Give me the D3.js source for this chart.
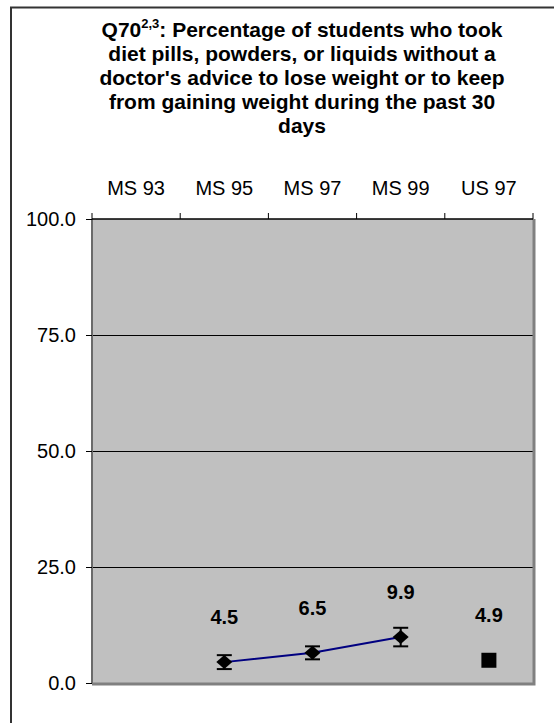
<!DOCTYPE html>
<html>
<head>
<meta charset="utf-8">
<script src="https://cdn.jsdelivr.net/npm/d3@7"></script>
<style>
  html, body { margin: 0; padding: 0; background: #fff; }
  svg { display: block; font-family: Arial, "Liberation Sans", sans-serif; }
</style>
</head>
<body>
<svg id="chart" width="554" height="723"></svg>
<script>
// Survey years shown along the top axis
const categories = ["MS 93", "MS 95", "MS 97", "MS 99", "US 97"];
// Mississippi trend (MS 93 not asked)
const trendCats = ["MS 95", "MS 97", "MS 99"];
const trendValues = [4.5, 6.5, 9.9];
const trendErr = [1.5, 1.4, 2.0];
// National comparison
const usCats = ["US 97"];
const usValues = [4.9];
// Y axis ticks
const yTicks = [0, 25, 50, 75, 100];

const svg = d3.select("#chart");
const plot = { left: 92, right: 533, top: 219, bottom: 683 };

// Outer chart frame
svg.append("path")
  .attr("d", "M11,723 L11,7.5 L554,7.5")
  .attr("fill", "none").attr("stroke", "#333").attr("stroke-width", 2);

// Title
const title = svg.append("g").attr("font-weight", "bold").attr("font-size", 21)
  .attr("text-anchor", "middle").attr("fill", "#000");
const t1 = title.append("text").attr("x", 302).attr("y", 37);
t1.append("tspan").text("Q70");
t1.append("tspan").attr("font-size", 13).attr("dy", -9).text("2,3");
t1.append("tspan").attr("dy", 9).text(": Percentage of students who took");
["diet pills, powders, or liquids without a",
 "doctor's advice to lose weight or to keep",
 "from gaining weight during the past 30",
 "days"].forEach((line, i) => {
  title.append("text").attr("x", 302).attr("y", 61 + i * 24).text(line);
});

const x = d3.scaleBand().domain(categories).range([plot.left, plot.right]);
const y = d3.scaleLinear().domain([0, 100]).range([plot.bottom, plot.top]);
const cx = d => x(d) + x.bandwidth() / 2;

// Plot area
svg.append("rect")
  .attr("x", plot.left).attr("y", plot.top)
  .attr("width", plot.right - plot.left).attr("height", plot.bottom - plot.top)
  .attr("fill", "#c0c0c0");

// Gridlines
svg.append("g").selectAll("line").data(yTicks.filter(v => v > 0 && v < 100)).join("line")
  .attr("x1", plot.left).attr("x2", plot.right)
  .attr("y1", d => y(d)).attr("y2", d => y(d))
  .attr("stroke", "#000").attr("stroke-width", 1).attr("shape-rendering", "crispEdges");

// Plot area border: gray shadow on right and bottom, gray left edge
svg.append("path")
  .attr("d", `M${plot.right + 1},${plot.top} L${plot.right + 1},${plot.bottom + 1} L${plot.left},${plot.bottom + 1}`)
  .attr("fill", "none").attr("stroke", "#808080").attr("stroke-width", 3);
svg.append("line")
  .attr("x1", plot.left).attr("x2", plot.left).attr("y1", plot.top).attr("y2", plot.bottom)
  .attr("stroke", "#6a6a6a").attr("stroke-width", 2);

// Y axis
const yAxis = svg.append("g").attr("transform", `translate(${plot.left},0)`)
  .call(d3.axisLeft(y).tickValues(yTicks).tickFormat(d3.format(".1f")).tickSize(6).tickPadding(10));
yAxis.select(".domain").remove();
yAxis.selectAll(".tick line").attr("stroke", "#000");
yAxis.selectAll("text").attr("font-size", 20).attr("font-family", "Arial, 'Liberation Sans', sans-serif").attr("fill", "#000");

// Top category axis with ticks at band boundaries
svg.append("line")
  .attr("x1", plot.left).attr("x2", plot.right).attr("y1", plot.top).attr("y2", plot.top)
  .attr("stroke", "#000").attr("stroke-width", 1.5);
const bounds = categories.map(c => x(c)).concat([plot.right]);
svg.append("g").selectAll("line").data(bounds).join("line")
  .attr("x1", d => d).attr("x2", d => d)
  .attr("y1", plot.top).attr("y2", plot.top - 6)
  .attr("stroke", "#000");
svg.append("g").selectAll("text").data(categories).join("text")
  .attr("x", d => cx(d)).attr("y", 195)
  .attr("text-anchor", "middle").attr("font-size", 20).attr("fill", "#000")
  .text(d => d);

// Trend line
const trend = trendCats.map((c, i) => ({ c, v: trendValues[i], e: trendErr[i] }));
svg.append("path").datum(trend)
  .attr("d", d3.line().x(d => cx(d.c)).y(d => y(d.v)))
  .attr("fill", "none").attr("stroke", "#000080").attr("stroke-width", 2);

// Error bars
const eb = svg.append("g").attr("stroke", "#000").attr("stroke-width", 2);
trend.forEach(d => {
  const xc = cx(d.c);
  eb.append("line").attr("x1", xc).attr("x2", xc).attr("y1", y(d.v - d.e)).attr("y2", y(d.v + d.e));
  [d.v - d.e, d.v + d.e].forEach(v => {
    eb.append("line").attr("x1", xc - 7.5).attr("x2", xc + 7.5).attr("y1", y(v)).attr("y2", y(v));
  });
});

// Diamond markers
svg.append("g").selectAll("path").data(trend).join("path")
  .attr("transform", d => `translate(${cx(d.c)},${y(d.v)})`)
  .attr("d", "M0,-7 L8,0 L0,7 L-8,0 Z")
  .attr("fill", "#000");

// US square marker
const us = usCats.map((c, i) => ({ c, v: usValues[i] }));
svg.append("g").selectAll("rect").data(us).join("rect")
  .attr("x", d => cx(d.c) - 7.5).attr("y", d => y(d.v) - 7.5)
  .attr("width", 15).attr("height", 15).attr("fill", "#000");

// Value labels
svg.append("g").selectAll("text").data(trend.concat(us)).join("text")
  .attr("x", d => cx(d.c)).attr("y", d => y(d.v) - 38)
  .attr("text-anchor", "middle").attr("font-size", 20).attr("font-weight", "bold").attr("fill", "#000")
  .text(d => d.v.toFixed(1));
</script>
</body>
</html>
